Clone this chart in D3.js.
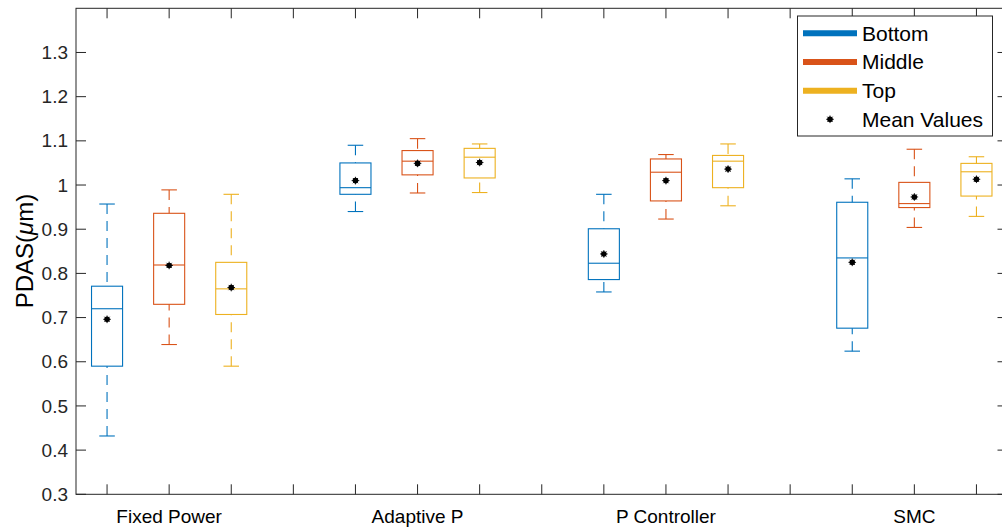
<!DOCTYPE html>
<html>
<head>
<meta charset="utf-8">
<script src="https://cdn.jsdelivr.net/npm/d3@7"></script>
<style>
  html, body { margin: 0; padding: 0; background: #fff; }
  svg { display: block; font-family: "Liberation Sans", Arial, sans-serif; }
</style>
</head>
<body>
<svg id="chart" width="1002" height="529"></svg>
<script>
// Groups along the x axis and the three measuring positions in each group
const groups = ["Fixed Power", "Adaptive P", "P Controller", "SMC"];
const seriesNames = ["Bottom", "Middle", "Top"];
const seriesColors = ["#0072BD", "#D95319", "#EDB120"];

// Box summaries per group: [lower whisker, Q1, median, Q3, upper whisker]
const bottomBoxes = [
  [0.432, 0.590, 0.720, 0.771, 0.957],
  [0.940, 0.979, 0.994, 1.050, 1.090],
  [0.758, 0.786, 0.823, 0.901, 0.979],
  [0.624, 0.676, 0.835, 0.961, 1.014]
];
const middleBoxes = [
  [0.639, 0.730, 0.819, 0.936, 0.989],
  [0.982, 1.023, 1.054, 1.078, 1.105],
  [0.923, 0.964, 1.029, 1.059, 1.069],
  [0.904, 0.949, 0.958, 1.006, 1.081]
];
const topBoxes = [
  [0.590, 0.707, 0.765, 0.825, 0.979],
  [0.983, 1.016, 1.063, 1.083, 1.093],
  [0.953, 0.994, 1.054, 1.067, 1.093],
  [0.929, 0.975, 1.030, 1.049, 1.064]
];

// Mean value of each box
const bottomMeans = [0.696, 1.010, 0.844, 0.825];
const middleMeans = [0.818, 1.049, 1.010, 0.973];
const topMeans = [0.768, 1.051, 1.036, 1.013];

const yTicks = [0.3, 0.4, 0.5, 0.6, 0.7, 0.8, 0.9, 1.0, 1.1, 1.2, 1.3];
const yTickLabels = ["0.3", "0.4", "0.5", "0.6", "0.7", "0.8", "0.9", "1", "1.1", "1.2", "1.3"];

const boxesBySeries = [bottomBoxes, middleBoxes, topBoxes];
const meansBySeries = [bottomMeans, middleMeans, topMeans];

const svg = d3.select("#chart");
const axisColor = "#262626";

// Plot area
const plotLeft = 76, plotTop = 8.3, plotBottom = 494.3;
const x = d3.scaleLinear().domain([0.5, 15.5]).range([plotLeft, plotLeft + 15 * 62.1]);
const y = d3.scaleLinear().domain([0.3, 1.4]).range([plotBottom, plotTop]);
const plotRight = x(15.5);

const posOf = (g, s) => g * 4 + s + 1;
const boxHalf = x(1.25) - x(1);
const capHalf = x(1.125) - x(1);

const plot = svg.append("g");

// Boxes, whiskers and medians
boxesBySeries.forEach((boxes, s) => {
  const color = seriesColors[s];
  boxes.forEach((b, g) => {
    const cx = x(posOf(g, s));
    const [lo, q1, med, q3, hi] = b;
    const gg = plot.append("g").attr("fill", "none").attr("stroke", color).attr("stroke-width", 1.1);
    // whiskers drawn from the caps toward the box
    gg.append("line").attr("x1", cx).attr("x2", cx).attr("y1", y(hi)).attr("y2", y(q3))
      .attr("stroke-dasharray", "10,7");
    gg.append("line").attr("x1", cx).attr("x2", cx).attr("y1", y(lo)).attr("y2", y(q1))
      .attr("stroke-dasharray", "10,7");
    gg.append("line").attr("x1", cx - capHalf).attr("x2", cx + capHalf).attr("y1", y(hi)).attr("y2", y(hi));
    gg.append("line").attr("x1", cx - capHalf).attr("x2", cx + capHalf).attr("y1", y(lo)).attr("y2", y(lo));
    gg.append("rect").attr("x", cx - boxHalf).attr("y", y(q3))
      .attr("width", 2 * boxHalf).attr("height", y(q1) - y(q3));
    gg.append("line").attr("x1", cx - boxHalf).attr("x2", cx + boxHalf).attr("y1", y(med)).attr("y2", y(med));
  });
});

// Mean markers: small black asterisk-like dots
function meanMarker(sel, cx, cy) {
  const m = sel.append("g").attr("transform", `translate(${cx},${cy})`);
  m.append("circle").attr("r", 2.8).attr("fill", "#000");
  [[-3.8, 0, 3.8, 0], [0, -3.8, 0, 3.8], [-2.6, -2.6, 2.6, 2.6], [-2.6, 2.6, 2.6, -2.6]].forEach(d => {
    m.append("line").attr("x1", d[0]).attr("y1", d[1]).attr("x2", d[2]).attr("y2", d[3])
      .attr("stroke", "#000").attr("stroke-width", 0.9);
  });
}
meansBySeries.forEach((means, s) => {
  means.forEach((v, g) => meanMarker(plot, x(posOf(g, s)), y(v)));
});

// Axes frame
const frame = svg.append("g").attr("stroke", axisColor).attr("stroke-width", 1).attr("fill", "none");
frame.append("rect").attr("x", plotLeft).attr("y", plotTop)
  .attr("width", plotRight - plotLeft).attr("height", plotBottom - plotTop);

const tickLen = 10;
const xTickPositions = d3.range(1, 16);
// bottom / top ticks (inward)
frame.selectAll(".xb").data(xTickPositions).enter().append("line")
  .attr("x1", d => x(d)).attr("x2", d => x(d)).attr("y1", plotBottom).attr("y2", plotBottom - tickLen);
frame.selectAll(".xt").data(xTickPositions).enter().append("line")
  .attr("x1", d => x(d)).attr("x2", d => x(d)).attr("y1", plotTop).attr("y2", plotTop + tickLen);
// left / right ticks (inward)
frame.selectAll(".yl").data(yTicks).enter().append("line")
  .attr("x1", plotLeft).attr("x2", plotLeft + tickLen).attr("y1", d => y(d)).attr("y2", d => y(d));
frame.selectAll(".yr").data(yTicks).enter().append("line")
  .attr("x1", plotRight).attr("x2", plotRight - tickLen).attr("y1", d => y(d)).attr("y2", d => y(d));

// Y tick labels
svg.append("g").selectAll("text").data(yTicks).enter().append("text")
  .attr("x", plotLeft - 8).attr("y", d => y(d)).attr("dy", "0.35em")
  .attr("text-anchor", "end").attr("font-size", 19).attr("fill", axisColor)
  .text((d, i) => yTickLabels[i]);

// Group labels
svg.append("g").selectAll("text").data(groups).enter().append("text")
  .attr("x", (d, i) => x(posOf(i, 1))).attr("y", 523)
  .attr("text-anchor", "middle").attr("font-size", 19).attr("fill", "#000")
  .text(d => d);

// Y axis title
const yt = svg.append("text")
  .attr("transform", `translate(33,251) rotate(-90)`)
  .attr("text-anchor", "middle").attr("font-size", 24).attr("fill", "#000");
yt.append("tspan").text("PDAS(");
yt.append("tspan").attr("font-style", "italic").text("\u03BC");
yt.append("tspan").text("m)");

// Legend
const lg = svg.append("g");
lg.append("rect").attr("x", 797.5).attr("y", 16).attr("width", 195).attr("height", 120)
  .attr("fill", "#fff").attr("stroke", axisColor).attr("stroke-width", 1);
const rowY = [33.3, 62, 90.7, 119.3];
seriesNames.forEach((name, i) => {
  lg.append("line").attr("x1", 803).attr("x2", 857).attr("y1", rowY[i]).attr("y2", rowY[i])
    .attr("stroke", seriesColors[i]).attr("stroke-width", 6);
  lg.append("text").attr("x", 862).attr("y", rowY[i]).attr("dy", "0.35em")
    .attr("font-size", 21).attr("fill", "#000").text(name);
});
meanMarker(lg, 830, rowY[3]);
lg.append("text").attr("x", 862).attr("y", rowY[3]).attr("dy", "0.35em")
  .attr("font-size", 21).attr("fill", "#000").text("Mean Values");
</script>
</body>
</html>
